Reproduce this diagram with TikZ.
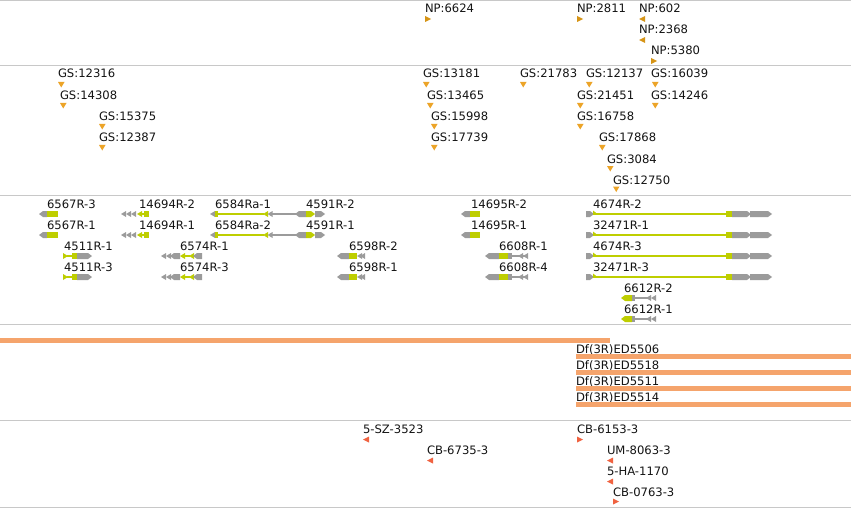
\documentclass[tikz,border=0pt]{standalone}
\usepackage{fontspec}
\setmainfont{DejaVu Sans}
\definecolor{sepc}{RGB}{200,200,200}
\definecolor{npc}{RGB}{214,148,22}
\definecolor{gsc}{RGB}{236,164,40}
\definecolor{ggray}{RGB}{155,155,155}
\definecolor{ggreen}{RGB}{190,206,0}
\definecolor{dfc}{RGB}{245,164,108}
\definecolor{alc}{RGB}{240,98,64}
\definecolor{txt}{RGB}{20,20,20}
% marker triangles
\newcommand\TriR[3]{\fill[#1] (#2,#3-3) -- (#2+6,#3) -- (#2,#3+3) -- cycle;}
\newcommand\TriL[3]{\fill[#1] (#2+6,#3-3) -- (#2,#3) -- (#2+6,#3+3) -- cycle;}
\newcommand\TriD[3]{\fill[#1] (#2,#3-2.5) -- (#2+6.5,#3-2.5) -- (#2+3.25,#3+3) -- cycle;}
% gene glyph parts
\newcommand\GBox[4]{\fill[#1] (#2,#4-3) rectangle (#3,#4+3);}
\newcommand\GArL[4]{\fill[#1] (#2,#4) -- (#2+4,#4-3) -- (#3,#4-3) -- (#3,#4+3) -- (#2+4,#4+3) -- cycle;}
\newcommand\GArR[4]{\fill[#1] (#2,#4-3) -- (#3-4,#4-3) -- (#3,#4) -- (#3-4,#4+3) -- (#2,#4+3) -- cycle;}
\newcommand\GLn[4]{\draw[#1,line width=1.2pt] (#2,#4) -- (#3,#4);}
\newcommand\GTriL[3]{\fill[#1] (#2,#3) -- (#2+5,#3-3) -- (#2+5,#3+3) -- cycle;}
\newcommand\GTriR[3]{\fill[#1] (#2,#3-3) -- (#2+5,#3) -- (#2,#3+3) -- cycle;}
% genes
\newcommand\gnA[1]{\GArL{ggray}{39}{47}{#1}\GBox{ggreen}{47}{58}{#1}}
\newcommand\gnB[1]{\GTriL{ggray}{121}{#1}\GTriL{ggray}{126}{#1}\GTriL{ggray}{131}{#1}%
 \GTriL{ggreen}{137}{#1}\GLn{ggreen}{141}{145}{#1}\GBox{ggreen}{144}{149}{#1}}
\newcommand\gnC[1]{\GTriL{ggray}{210}{#1}\GBox{ggreen}{214.5}{218}{#1}\GLn{ggreen}{218}{264}{#1}%
 \GTriL{ggreen}{263}{#1}\GTriL{ggray}{267.5}{#1}\GLn{ggray}{272}{297}{#1}%
 \GArL{ggray}{295}{306}{#1}\GArR{ggreen}{306}{315}{#1}\GArR{ggray}{315}{325}{#1}}
\newcommand\gnD[1]{\GTriR{ggreen}{63}{#1}\GLn{ggreen}{67}{72}{#1}\GBox{ggreen}{72}{77}{#1}\GArR{ggray}{77}{92}{#1}}
\newcommand\gnE[1]{\GTriL{ggray}{161}{#1}\GTriL{ggray}{166}{#1}\GArL{ggray}{170}{180}{#1}%
 \GTriL{ggreen}{180}{#1}\GLn{ggreen}{184}{190}{#1}\GTriL{ggreen}{189}{#1}\GArL{ggray}{193}{202}{#1}}
\newcommand\gnF[1]{\GArL{ggray}{337}{349}{#1}\GBox{ggreen}{349}{357}{#1}\GTriL{ggray}{357}{#1}\GTriL{ggray}{360}{#1}}
\newcommand\gnG[1]{\GArL{ggray}{461}{470}{#1}\GBox{ggreen}{470}{480}{#1}}
\newcommand\gnH[1]{\GArL{ggray}{485}{499}{#1}\GBox{ggreen}{499}{508}{#1}\GBox{ggray}{508}{512}{#1}%
 \GLn{ggray}{512}{526}{#1}\GTriL{ggray}{518}{#1}\GTriL{ggray}{523}{#1}}
\newcommand\gnI[1]{\GArR{ggray}{586}{594}{#1}\fill[ggreen] (593,#1-3.5) -- (597.5,#1) -- (593,#1) -- cycle;%
 \GLn{ggreen}{593}{726}{#1}\GBox{ggreen}{726}{732}{#1}\GArR{ggray}{732}{751}{#1}\GArR{ggray}{750}{772}{#1}}
\newcommand\gnJ[1]{\GArL{ggreen}{621}{632}{#1}\GBox{ggray}{632}{635}{#1}\GLn{ggray}{635}{650}{#1}%
 \GTriL{ggray}{646}{#1}\GTriL{ggray}{651}{#1}}
\begin{document}
\begin{tikzpicture}[x=1pt,y=-1pt,
  lbl/.style={anchor=base west,inner sep=0,outer sep=0,text=txt,font=\fontsize{11.6}{13}\selectfont},
  sepline/.style={draw=sepc,line width=1pt}]
\useasboundingbox (0,0) rectangle (851,508);
\fill[white] (0,0) rectangle (851,508);
% separators
\foreach \yy in {0.5,66,195,324,420.5,507}{\draw[sepline] (0,\yy) -- (851,\yy);}
% ---------- NP track ----------
\node[lbl] (np6624) at (425,13) {NP:6624}; \TriR{npc}{425}{19}
\node[lbl] (np2811) at (577,13) {NP:2811}; \TriR{npc}{577}{19}
\node[lbl] (np602) at (639,13) {NP:602}; \TriL{npc}{639}{19}
\node[lbl] (np2368) at (639,34) {NP:2368}; \TriL{npc}{639}{40}
\node[lbl] (np5380) at (651,55) {NP:5380}; \TriR{npc}{651}{61}
% ---------- GS track ----------
\node[lbl] (gsA) at (58,78) {GS:12316}; \TriD{gsc}{58}{84.5}
\node[lbl] (gsB) at (423,78) {GS:13181}; \TriD{gsc}{423}{84.5}
\node[lbl] (gsC) at (520,78) {GS:21783}; \TriD{gsc}{520}{84.5}
\node[lbl] (gsD) at (586,78) {GS:12137}; \TriD{gsc}{586}{84.5}
\node[lbl] (gsE) at (651,78) {GS:16039}; \TriD{gsc}{652}{84.5}
\node[lbl] (gsF) at (60,99.5) {GS:14308}; \TriD{gsc}{60}{105.5}
\node[lbl] (gsG) at (427,99.5) {GS:13465}; \TriD{gsc}{427}{105.5}
\node[lbl] (gsH) at (577,99.5) {GS:21451}; \TriD{gsc}{577}{105.5}
\node[lbl] (gsI) at (651,99.5) {GS:14246}; \TriD{gsc}{652}{105.5}
\node[lbl] (gsJ) at (99,121) {GS:15375}; \TriD{gsc}{99}{126.5}
\node[lbl] (gsK) at (431,121) {GS:15998}; \TriD{gsc}{431}{126.5}
\node[lbl] (gsL) at (577,121) {GS:16758}; \TriD{gsc}{577}{126.5}
\node[lbl] (gsM) at (99,142) {GS:12387}; \TriD{gsc}{99}{147.5}
\node[lbl] (gsN) at (431,142) {GS:17739}; \TriD{gsc}{431}{147.5}
\node[lbl] (gsO) at (599,142) {GS:17868}; \TriD{gsc}{599}{147.5}
\node[lbl] (gsP) at (607,163) {GS:3084}; \TriD{gsc}{607}{168.5}
\node[lbl] (gsQ) at (613,184) {GS:12750}; \TriD{gsc}{613}{189}
% ---------- gene track ----------
\node[lbl] (gA1) at (47,208) {6567R-3}; \gnA{214}
\node[lbl] (gA2) at (47,229) {6567R-1}; \gnA{235}
\node[lbl] (gB1) at (139,208) {14694R-2}; \gnB{214}
\node[lbl] (gB2) at (139,229) {14694R-1}; \gnB{235}
\node[lbl] (gC1) at (215,208) {6584Ra-1}; \gnC{214}
\node[lbl] (gC2) at (215,229) {6584Ra-2}; \gnC{235}
\node[lbl] (gK1) at (306,208) {4591R-2};
\node[lbl] (gK2) at (306,229) {4591R-1};
\node[lbl] (gD1) at (64,250) {4511R-1}; \gnD{256}
\node[lbl] (gD2) at (64,271) {4511R-3}; \gnD{277}
\node[lbl] (gE1) at (180,250) {6574R-1}; \gnE{256}
\node[lbl] (gE2) at (180,271) {6574R-3}; \gnE{277}
\node[lbl] (gF1) at (349,250) {6598R-2}; \gnF{256}
\node[lbl] (gF2) at (349,271) {6598R-1}; \gnF{277}
\node[lbl] (gG1) at (471,208) {14695R-2}; \gnG{214}
\node[lbl] (gG2) at (471,229) {14695R-1}; \gnG{235}
\node[lbl] (gH1) at (499,250) {6608R-1}; \gnH{256}
\node[lbl] (gH2) at (499,271) {6608R-4}; \gnH{277}
\node[lbl] (gI1) at (593,208) {4674R-2}; \gnI{214}
\node[lbl] (gI2) at (593,229) {32471R-1}; \gnI{235}
\node[lbl] (gI3) at (593,250) {4674R-3}; \gnI{256}
\node[lbl] (gI4) at (593,271) {32471R-3}; \gnI{277}
\node[lbl] (gJ1) at (624,292) {6612R-2}; \gnJ{298}
\node[lbl] (gJ2) at (624,313) {6612R-1}; \gnJ{319}
% ---------- deficiency track ----------
\fill[dfc] (0,337.5) rectangle (610,342.5);
\node[lbl] (df1) at (576,353) {Df(3R)ED5506};
\fill[dfc] (576,353.5) rectangle (851,358.5);
\node[lbl] (df2) at (576,369) {Df(3R)ED5518};
\fill[dfc] (576,369.5) rectangle (851,374.5);
\node[lbl] (df3) at (576,385) {Df(3R)ED5511};
\fill[dfc] (576,385.5) rectangle (851,390.5);
\node[lbl] (df4) at (576,401) {Df(3R)ED5514};
\fill[dfc] (576,401.5) rectangle (851,406.5);
% ---------- allele track ----------
\node[lbl] (alA) at (363,433) {5-SZ-3523}; \TriL{alc}{363}{439.5}
\node[lbl] (alB) at (427,454) {CB-6735-3}; \TriL{alc}{427}{460.5}
\node[lbl] (alC) at (577,433) {CB-6153-3}; \TriR{alc}{577}{439.5}
\node[lbl] (alD) at (607,454) {UM-8063-3}; \TriL{alc}{607}{460.5}
\node[lbl] (alE) at (607,475) {5-HA-1170}; \TriL{alc}{607}{481.5}
\node[lbl] (alF) at (613,496) {CB-0763-3}; \TriR{alc}{613}{501.5}
\end{tikzpicture}
\end{document}
